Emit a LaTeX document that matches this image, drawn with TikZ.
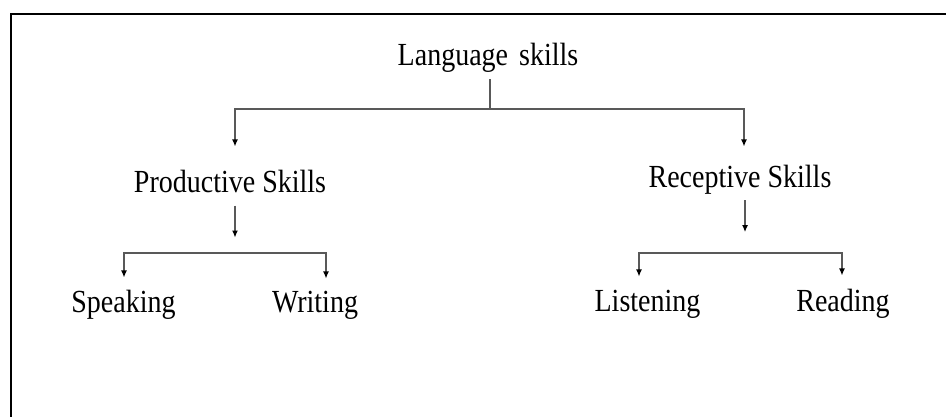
\documentclass[tikz,border=0pt]{standalone}
\usepackage{fontspec}
\setmainfont{Liberation Serif}
\usetikzlibrary{arrows.meta}
\newcommand\tx[1]{\scalebox{1}[1.15]{#1}}
\begin{document}
\begin{tikzpicture}[x=1pt,y=1pt,
  lbl/.style={inner sep=0pt,anchor=base,font=\fontsize{28}{30}\selectfont},
  ln/.style={draw=black!65,line width=1.2pt},
  arr/.style={ln,-{Latex[length=7pt,width=6pt,black]}},
  arrb/.style={ln,{Latex[length=7pt,width=6pt,black]}-{Latex[length=7pt,width=6pt,black]}},
  frame/.style={draw=black,line width=2pt}]
\useasboundingbox (0,0) rectangle (946,417);
\draw[frame] (11,0) -- (11,403) -- (946,403);
\node[lbl] (L) at (488,351) {\tx{Language\hspace{4pt} skills}};
\node[lbl] (P) at (230,224) {\tx{Productive Skills}};
\node[lbl] (R) at (740,229) {\tx{Receptive Skills}};
\node[lbl] (S) at (123.5,104) {\tx{Speaking}};
\node[lbl] (W) at (315,104) {\tx{Writing}};
\node[lbl] (Li) at (647.5,105) {\tx{Listening}};
\node[lbl] (Re) at (843,105) {\tx{Reading}};
\coordinate (jL) at (490,308);
\coordinate (bP) at (225,164);
\coordinate (bR) at (740,164);
\draw[ln,shorten <=6pt] ([xshift=2pt]L.south) -- (jL);
\draw[arr] (jL) -| ([xshift=5pt,yshift=24pt]P.north);
\draw[arr] (jL) -| ([xshift=4pt,yshift=19pt]R.north);
\draw[arr] ([xshift=5pt,yshift=-12pt]P.south) -- ++(0,-32);
\draw[arr] ([xshift=5pt,yshift=-5pt]R.south) -- ++(0,-32);
\draw[arrb] ([xshift=0.5pt,yshift=13pt]S.north) |- (bP) -| ([xshift=11pt,yshift=13pt]W.north);
\draw[arrb] ([xshift=-8.5pt,yshift=14pt]Li.north) |- (bR) -| ([xshift=-1pt,yshift=14pt]Re.north);
\end{tikzpicture}
\end{document}
